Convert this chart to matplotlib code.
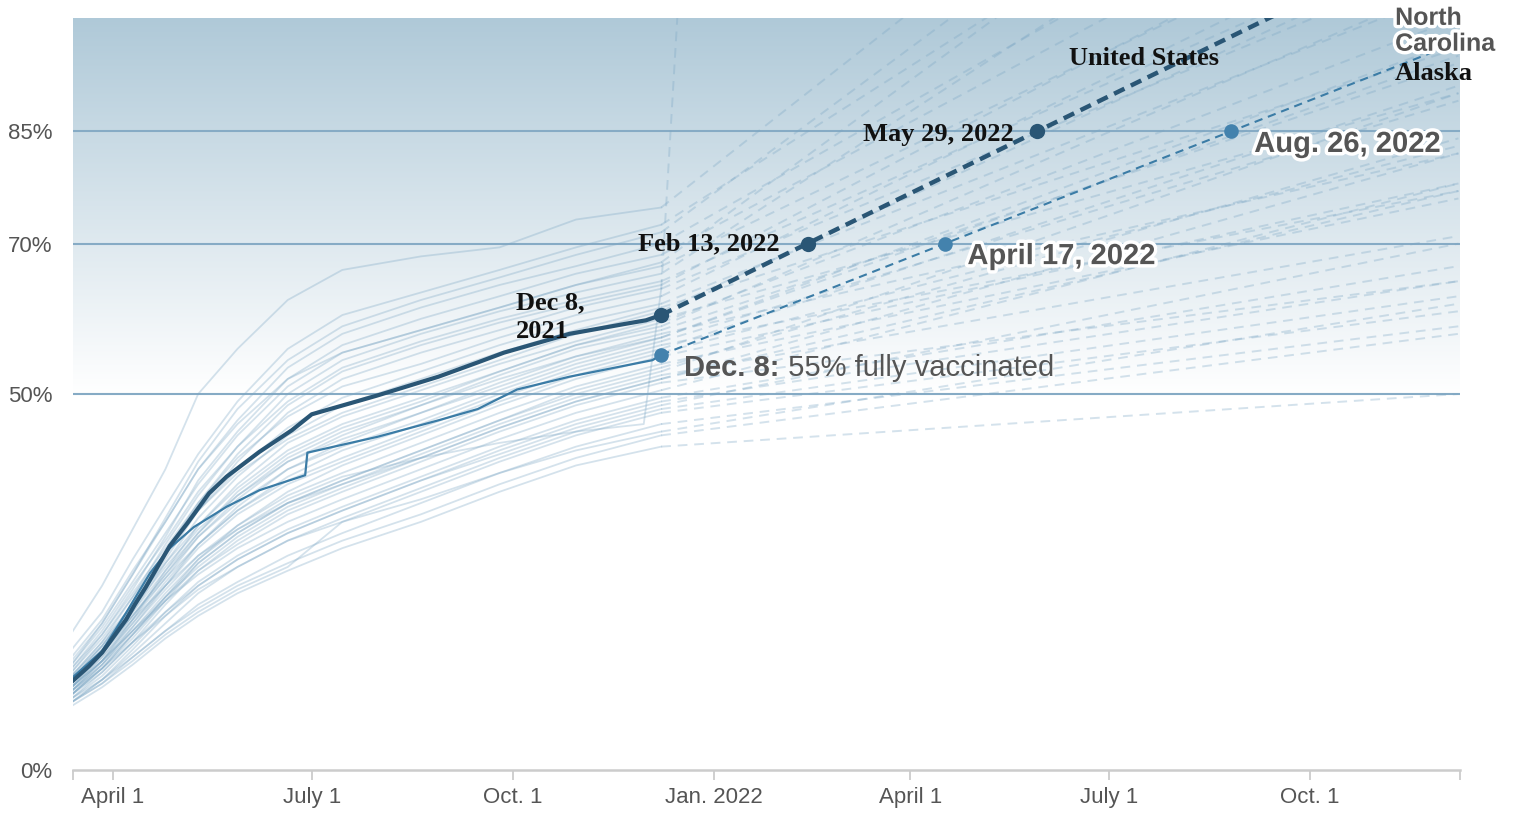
import numpy as np
import matplotlib
matplotlib.use("Agg")
import matplotlib.pyplot as plt
import matplotlib.dates as mdates
import matplotlib.patheffects as pe
from matplotlib.colors import to_rgb

# ---------------- data ----------------
dates = ['2021-03-13', '2021-03-27', '2021-04-10', '2021-04-25', '2021-05-10', '2021-05-28',
         '2021-06-20', '2021-07-15', '2021-08-20', '2021-09-25', '2021-10-30', '2021-12-08']

# share of population fully vaccinated (%) at each date, one row per state
high_states = [
    [18.2, 24.5, 32.0, 40.0, 50.0, 56.0, 62.5, 66.5, 68.3, 69.5, 73.2, 74.8],
    [16.0, 21.0, 28.0, 35.0, 42.0, 49.0, 56.0, 60.5, 63.5, 66.5, 69.5, 72.5],
    [14.5, 19.5, 26.0, 33.5, 41.0, 48.0, 54.5, 59.0, 62.5, 65.5, 68.5, 71.5],
    [15.0, 20.0, 26.5, 33.0, 40.0, 46.5, 53.5, 58.0, 61.5, 64.5, 67.0, 70.0],
    [13.0, 18.0, 24.0, 31.0, 38.5, 45.0, 52.0, 56.5, 60.0, 63.0, 66.0, 68.5],
    [14.0, 19.0, 25.0, 31.5, 38.0, 44.5, 51.0, 55.5, 58.5, 61.5, 64.5, 67.0],
    [12.5, 17.0, 23.0, 30.0, 36.5, 43.0, 50.0, 54.5, 58.0, 61.0, 63.5, 66.0],
    [13.5, 18.5, 24.5, 30.5, 37.0, 43.0, 49.0, 53.5, 57.0, 60.0, 62.5, 65.0],
    [12.0, 16.5, 22.0, 29.0, 35.5, 42.0, 48.5, 53.0, 56.5, 59.5, 62.0, 64.5],
    [11.5, 16.0, 21.5, 28.0, 34.5, 41.0, 47.5, 52.0, 55.5, 58.5, 61.5, 64.0],
    [14.0, 19.5, 26.0, 33.0, 40.0, 46.0, 52.0, 55.5, 58.5, 61.5, 64.5, 67.5],
    [13.5, 18.0, 23.5, 29.5, 35.5, 41.5, 47.0, 51.0, 54.0, 57.5, 60.5, 63.0],
]
high_proj_end = [158, 140, 150, 130, 125, 118, 135, 112, 120, 108, 145, 115]

mid_states = [
    [12.0, 16.5, 22.0, 28.5, 34.5, 40.0, 45.5, 49.5, 53.0, 56.5, 59.5, 62.0],
    [11.0, 15.5, 21.0, 27.5, 33.5, 39.0, 44.5, 48.5, 52.0, 55.5, 58.5, 61.5],
    [13.0, 17.5, 23.0, 29.0, 34.5, 39.5, 44.0, 47.5, 51.0, 54.5, 58.0, 61.0],
    [10.5, 14.5, 20.0, 26.5, 32.5, 38.0, 43.5, 47.0, 50.5, 54.0, 57.0, 60.0],
    [12.5, 17.0, 22.0, 27.5, 32.5, 37.5, 42.5, 46.0, 49.5, 53.0, 56.5, 59.5],
    [11.5, 15.5, 20.5, 26.0, 31.5, 37.0, 42.0, 45.5, 49.0, 53.0, 56.5, 59.0],
    [11.0, 15.0, 20.0, 25.5, 31.0, 36.0, 41.0, 44.5, 48.5, 52.5, 56.0, 58.5],
    [12.0, 16.0, 21.0, 26.5, 31.5, 36.5, 41.5, 45.0, 48.5, 52.0, 55.0, 58.0],
    [10.0, 14.0, 19.0, 24.5, 30.0, 35.0, 40.0, 43.5, 47.5, 51.0, 54.5, 57.5],
    [12.5, 16.5, 21.5, 27.0, 32.0, 36.5, 41.0, 44.0, 47.5, 51.5, 55.0, 57.5],
    [11.5, 15.5, 20.5, 26.0, 31.0, 35.5, 40.0, 43.0, 46.5, 50.5, 54.0, 57.0],
    [10.5, 14.5, 19.5, 25.0, 30.0, 34.5, 39.0, 42.5, 46.0, 50.0, 53.5, 56.5],
    [12.0, 16.0, 20.5, 25.5, 30.0, 34.5, 38.5, 41.5, 45.5, 49.5, 53.0, 56.0],
    [11.0, 15.0, 19.5, 24.5, 29.5, 34.0, 38.0, 41.0, 45.0, 49.0, 52.5, 55.5],
    [10.0, 13.5, 18.0, 23.0, 28.0, 32.5, 37.0, 40.5, 44.5, 48.5, 52.0, 55.0],
]
mid_proj_end = [104, 96, 110, 90, 100, 105, 94, 82, 97, 95, 89, 77, 91, 83, 78]

low_states = [
    [11.0, 14.5, 19.0, 24.0, 28.5, 32.5, 36.5, 39.5, 43.5, 47.5, 51.0, 54.0],
    [10.0, 13.5, 17.5, 22.5, 27.5, 31.5, 35.5, 38.5, 42.5, 46.5, 50.5, 53.5],
    [10.0, 13.5, 18.0, 23.0, 27.5, 31.5, 35.5, 38.5, 42.5, 46.5, 50.0, 53.0],
    [12.0, 15.5, 20.0, 24.5, 28.5, 32.0, 35.5, 38.0, 42.0, 46.0, 49.5, 52.5],
    [9.5, 13.0, 17.0, 22.0, 26.5, 30.5, 34.5, 37.5, 41.5, 45.5, 49.0, 52.0],
    [11.0, 14.5, 18.5, 23.0, 27.0, 31.0, 35.0, 38.0, 41.5, 45.5, 49.0, 52.0],
    [10.5, 14.0, 18.0, 22.5, 26.5, 30.0, 34.0, 37.0, 41.0, 45.0, 48.5, 51.5],
    [11.0, 14.5, 18.5, 22.5, 26.0, 29.5, 33.0, 36.0, 40.0, 44.0, 47.5, 50.5],
    [9.5, 12.5, 16.5, 21.0, 25.0, 28.5, 32.0, 35.0, 39.0, 43.0, 46.5, 49.5],
    [10.0, 13.0, 17.0, 21.0, 24.5, 28.0, 31.5, 34.5, 38.5, 42.5, 46.0, 49.0],
    [9.0, 12.0, 16.0, 20.5, 24.5, 28.0, 31.5, 34.5, 38.5, 42.0, 45.5, 48.5],
    [9.0, 12.0, 15.5, 19.5, 23.5, 27.0, 30.5, 33.5, 37.5, 41.5, 45.0, 48.0],
    [10.5, 13.5, 17.0, 20.5, 24.0, 27.0, 30.5, 33.0, 37.0, 41.0, 44.5, 47.5],
    [9.0, 11.5, 15.0, 18.5, 22.0, 25.0, 28.5, 31.5, 35.5, 39.5, 43.0, 46.0],
    [9.0, 11.5, 14.5, 18.0, 21.0, 24.0, 27.0, 33.0, 36.0, 39.5, 42.5, 45.0],
    [9.5, 12.0, 15.0, 18.5, 21.5, 24.5, 27.5, 30.5, 34.0, 38.0, 41.5, 44.5],
    [8.5, 11.0, 14.0, 17.5, 20.5, 23.5, 26.5, 29.5, 33.0, 37.0, 40.5, 43.0],
]
low_proj_end = [76, 84, 90, 71, 82, 77, 65, 78, 67, 65, 70, 63, 61, 59, 62, 58, 50]

# one state whose last report jumps, giving a near-vertical projection
jump_state_dates = ['2021-03-13', '2021-03-27', '2021-04-10', '2021-04-25', '2021-05-10', '2021-05-28',
                    '2021-06-20', '2021-07-15', '2021-08-20', '2021-09-25', '2021-10-30', '2021-11-30',
                    '2021-12-08']
jump_state_values = [10.5, 14.0, 18.5, 23.5, 28.0, 32.0, 36.0, 39.0, 41.5, 43.5, 45.0, 46.0, 64.0]
jump_state_proj_end = 1850

# United States
us_dates = ['2021-03-13', '2021-03-21', '2021-03-27', '2021-04-02', '2021-04-07', '2021-04-11',
            '2021-04-16', '2021-04-22', '2021-04-27', '2021-05-05', '2021-05-15', '2021-05-23',
            '2021-06-07', '2021-06-22', '2021-07-01', '2021-07-31', '2021-08-28', '2021-09-15',
            '2021-09-27', '2021-10-27', '2021-11-21', '2021-12-01', '2021-12-08']
us_values = [11.7, 13.8, 15.6, 18.0, 20.0, 22.0, 24.3, 27.3, 29.8, 32.8, 36.8, 39.0,
             42.3, 45.2, 47.3, 49.8, 52.3, 54.2, 55.5, 58.0, 59.3, 59.8, 60.5]
us_proj_end = 112.3
us_milestone_dates = ['2021-12-08', '2022-02-13', '2022-05-29']
us_milestone_values = [60.5, 70, 85]
us_milestone_labels = ['Dec 8,\n2021', 'Feb 13, 2022', 'May 29, 2022']

# highlighted state
nc_dates = ['2021-03-13', '2021-03-27', '2021-04-07', '2021-04-18', '2021-04-27', '2021-05-08',
            '2021-05-23', '2021-06-07', '2021-06-28', '2021-06-29', '2021-07-31', '2021-08-28',
            '2021-09-15', '2021-10-03', '2021-10-27', '2021-12-04', '2021-12-08']
nc_values = [12.2, 15.8, 20.9, 26.2, 29.5, 32.3, 35.0, 37.2, 39.2, 42.2, 44.3, 46.5,
             48.0, 50.6, 52.3, 54.5, 55.2]
nc_proj_end = 96.8
nc_milestone_dates = ['2021-12-08', '2022-04-17', '2022-08-26']
nc_milestone_values = [55.2, 70, 85]
nc_milestone_labels = ['Dec. 8:', 'April 17, 2022', 'Aug. 26, 2022']

proj_dates = ['2021-12-08', '2022-12-08']

xtick_dates = ['2021-04-01', '2021-07-01', '2021-10-01', '2022-01-01', '2022-04-01', '2022-07-01', '2022-10-01']
xtick_labels = ['April 1', 'July 1', 'Oct. 1', 'Jan. 2022', 'April 1', 'July 1', 'Oct. 1']
ytick_values = [0, 50, 70, 85]
ytick_labels = ['0%', '50%', '70%', '85%']

# ---------------- style ----------------
SANS = ['Liberation Sans', 'DejaVu Sans']
SERIF = ['Liberation Serif', 'DejaVu Serif']
STATE_C = '#7ba6c4'
US_C = '#2a5675'
NC_C = '#3b7ca6'
NC_DOT = '#4382ad'
TXT = '#555555'
GRID_C = '#86abc5'

def d(s):
    return mdates.datestr2num(s)

def dl(lst):
    return [d(s) for s in lst]

fig = plt.figure(figsize=(15.17, 8.13), dpi=100)
ax = fig.add_axes([73 / 1517, 43 / 813, (1460 - 73) / 1517, (770 - 18) / 813])

x0 = d('2021-03-13') + 0.7
x1 = d('2022-12-08') + 0.7

# gradient background (50% to top)
g = np.linspace(0, 1, 256)[:, None, None]
top = np.array(to_rgb('#afc9d8'))
img = np.ones(3) + (top - np.ones(3)) * g
img = np.repeat(img, 2, axis=1)
ax.imshow(img, extent=[x0, x1, 50, 100], origin='lower', aspect='auto', zorder=0,
          interpolation='bilinear')

for yv in [50, 70, 85]:
    ax.axhline(yv, color=GRID_C, lw=1.5, zorder=1)

xd = dl(dates)
pxd = dl(proj_dates)

all_states = list(zip(high_states, high_proj_end)) + list(zip(mid_states, mid_proj_end)) + \
    list(zip(low_states, low_proj_end))
for vals, end in all_states:
    ax.plot(xd, vals, color=STATE_C, alpha=0.32, lw=1.3, zorder=2, solid_joinstyle='round')
    ax.plot(pxd, [vals[-1], end], color=STATE_C, alpha=0.32, lw=1.4, zorder=2, dashes=(5, 3.5))

ax.plot(dl(jump_state_dates), jump_state_values, color=STATE_C, alpha=0.32, lw=1.3, zorder=2)
ax.plot(pxd, [jump_state_values[-1], jump_state_proj_end], color=STATE_C, alpha=0.32, lw=1.4,
        zorder=2, dashes=(5, 3.5))

# highlighted state
ax.plot(dl(nc_dates), nc_values, color=NC_C, lw=1.6, zorder=4)
ax.plot(pxd, [nc_values[-1], nc_proj_end], color=NC_C, lw=1.5, zorder=4, dashes=(4, 2.8))
ax.plot(dl(nc_milestone_dates), nc_milestone_values, 'o', color=NC_DOT, ms=10.5, mec='none', zorder=6)

# US
ax.plot(dl(us_dates), us_values, color=US_C, lw=3.0, zorder=5, solid_capstyle='round',
        solid_joinstyle='round')
ax.plot(pxd, [us_values[-1], us_proj_end], color=US_C, lw=3.2, zorder=5, dashes=(2.6, 1.6))
ax.plot(dl(us_milestone_dates), us_milestone_values, 'o', color=US_C, ms=11, mec='none', zorder=6)

ax.set_xlim(x0, x1)
ax.set_ylim(0, 100)

# ---------------- axes ----------------
for s in ['top', 'right', 'left']:
    ax.spines[s].set_visible(False)
ax.spines['bottom'].set_color('#cccccc')
ax.spines['bottom'].set_linewidth(1.8)
ax.spines['bottom'].set_zorder(3)

ax.set_xticks(dl(xtick_dates))
ax.set_xticklabels(xtick_labels, family=SANS, fontsize=16, color=TXT)
ax.set_xticks([x0, x1], minor=True)
ax.tick_params(axis='x', which='both', length=7, width=1.3, color='#cccccc', pad=5)
ax.set_yticks(ytick_values)
ax.set_yticklabels(ytick_labels, family=SANS, fontsize=16, color=TXT)
ax.tick_params(axis='y', length=0, pad=15)

# ---------------- annotations ----------------
serif_kw = dict(family=SERIF, fontweight='bold', fontsize=19, color='#111111', zorder=7)
halo = [pe.withStroke(linewidth=5, foreground='white')]

ax.annotate(us_milestone_labels[0], (d(us_milestone_dates[0]), us_milestone_values[0]),
            xytext=(-104.5, -1.5), textcoords='offset points', ha='left', va='center',
            linespacing=1.3, **serif_kw)
ax.annotate(us_milestone_labels[1], (d(us_milestone_dates[1]), us_milestone_values[1]),
            xytext=(-20, -0.5), textcoords='offset points', ha='right', va='center', **serif_kw)
ax.annotate(us_milestone_labels[2], (d(us_milestone_dates[2]), us_milestone_values[2]),
            xytext=(-17, -3), textcoords='offset points', ha='right', va='center', **serif_kw)
ax.text(d('2022-07-17'), 94.6, 'United States', ha='center', va='center', **serif_kw)

sans_bold = dict(family=SANS, fontweight='bold', fontsize=21, color=TXT, zorder=7)
t1 = ax.annotate(nc_milestone_labels[0], (d(nc_milestone_dates[0]), nc_milestone_values[0]),
                 xytext=(16.5, -9.5), textcoords='offset points', ha='left', va='center', **sans_bold)
ax.annotate(' 55% fully vaccinated', xy=(1, 0), xycoords=t1, ha='left', va='bottom',
            family=SANS, fontsize=21, color=TXT, zorder=7)
ax.annotate(nc_milestone_labels[1], (d(nc_milestone_dates[1]), nc_milestone_values[1]),
            xytext=(16, -9), textcoords='offset points', ha='left', va='center',
            path_effects=halo, **sans_bold)
ax.annotate(nc_milestone_labels[2], (d(nc_milestone_dates[2]), nc_milestone_values[2]),
            xytext=(16.5, -9.5), textcoords='offset points', ha='left', va='center',
            path_effects=halo, **sans_bold)

ax.text(d('2022-11-09'), 98.3, 'North\nCarolina', ha='left', va='center', family=SANS,
        fontweight='bold', fontsize=18, color=TXT, linespacing=1.1, path_effects=halo,
        clip_on=False, zorder=7)
ax.text(d('2022-11-09'), 92.6, 'Alaska', ha='left', va='center', clip_on=False, **serif_kw)

fig.savefig('out.png', dpi=100)
